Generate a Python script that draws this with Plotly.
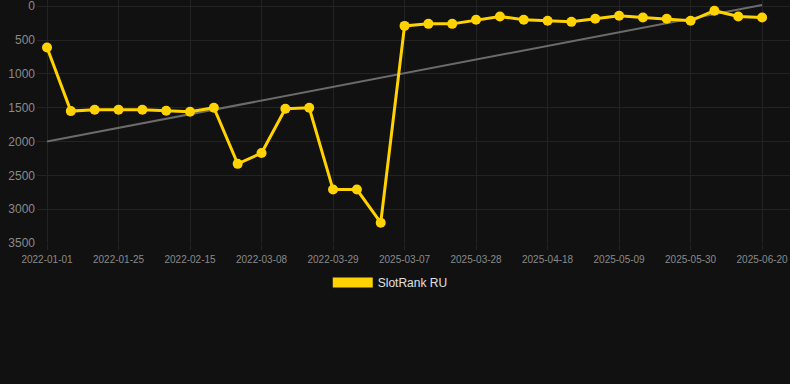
import plotly.graph_objects as go

dates = [
    "2022-01-01", "2022-01-08", "2022-01-18", "2022-01-25", "2022-02-01", "2022-02-08",
    "2022-02-15", "2022-02-22", "2022-03-01", "2022-03-08", "2022-03-15", "2022-03-22",
    "2022-03-29", "2022-04-05", "2022-04-12",
    "2025-03-07", "2025-03-14", "2025-03-21", "2025-03-28", "2025-04-04", "2025-04-11",
    "2025-04-18", "2025-04-25", "2025-05-02", "2025-05-09", "2025-05-16", "2025-05-23",
    "2025-05-30", "2025-06-06", "2025-06-13", "2025-06-20",
]
rank = [
    610, 1550, 1530, 1530, 1530, 1545, 1560, 1500, 2330, 2170, 1515, 1500,
    2710, 2710, 3200,
    290, 260, 260, 200, 150, 200, 215, 230, 185, 140, 165, 185, 215, 65, 150, 165,
]
trend_x = [dates[0], dates[-1]]
trend_y = [2000, -20]
tick_labels = dates[::3]
y_ticks = [0, 500, 1000, 1500, 2000, 2500, 3000, 3500]

GOLD = "#FFD200"
BG = "#111111"
GRID = "#232323"

fig = go.Figure()
fig.add_trace(go.Scatter(
    x=trend_x, y=trend_y, mode="lines",
    line=dict(color="#6b6b6b", width=2),
    showlegend=False, hoverinfo="skip",
))
fig.add_trace(go.Scatter(
    x=dates, y=rank, mode="lines+markers", name="SlotRank RU",
    line=dict(color=GOLD, width=3),
    marker=dict(color=GOLD, size=10),
    showlegend=False,
))
fig.add_trace(go.Scatter(
    x=[None], y=[None], mode="lines", name="SlotRank RU",
    line=dict(color=GOLD, width=12),
    showlegend=True,
))

fig.update_layout(
    width=790, height=384,
    paper_bgcolor=BG, plot_bgcolor=BG,
    margin=dict(l=37, r=0, t=0, b=141),
    font=dict(family="Liberation Sans, Arial, sans-serif", color="#8a8a8a"),
    showlegend=True,
    hovermode=False,
    legend=dict(
        orientation="h", xref="container", x=0.494, xanchor="center",
        yref="container", y=1 - 268 / 384, yanchor="top",
        font=dict(size=12, color="#e0e0e0"), itemwidth=40,
        bgcolor="rgba(0,0,0,0)",
    ),
    xaxis=dict(
        type="category", categoryorder="array", categoryarray=dates,
        range=[-0.42, 31.17],
        tickmode="array", tickvals=tick_labels, ticktext=tick_labels,
        tickfont=dict(size=10, color="#8a8a8a"),
        showgrid=True, gridcolor=GRID, gridwidth=1,
        zeroline=False, showline=False,
        ticks="outside", ticklen=6, tickcolor=GRID, tickwidth=1,
        ticklabelstandoff=1,
    ),
    yaxis=dict(
        range=[3500, -93],
        tickmode="array", tickvals=y_ticks,
        tickfont=dict(size=12, color="#8a8a8a"),
        showgrid=True, gridcolor=GRID, gridwidth=1,
        zeroline=False, showline=False, ticks="",
        ticklabelstandoff=1, ticklabeloverflow="allow",
    ),
)

fig.write_html(
    "out.html",
    config={"displayModeBar": False},
    post_script="document.body.style.margin='0';document.body.style.background='#111111';",
)
